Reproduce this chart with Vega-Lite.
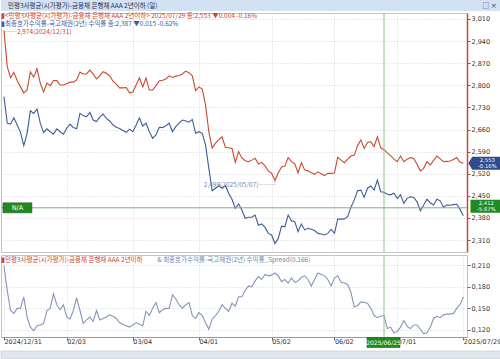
{
"$schema": "https://vega.github.io/schema/vega-lite/v6.json",
"padding": 0,
"background": "white",
"spacing": 1,
"config": {
  "font": "Noto Sans CJK KR",
  "view": {"stroke": "#c4c4c4"},
  "axis": {"labelFont": "DejaVu Sans", "labelFontSize": 6.5, "labelColor": "#333333", "tickColor": "#666666", "domainColor": "#999999", "gridColor": "#d4d4d4", "gridDash": [1, 2], "title": null, "labelOverlap": false}
},
"datasets": {
  "d": [
{"d":"2024/12/31","a":2.974,"b":2.764,"s":0.209},
{"d":"2025/01/02","a":2.859,"b":2.680,"s":0.175},
{"d":"2025/01/03","a":2.824,"b":2.677,"s":0.147},
{"d":"2025/01/06","a":2.841,"b":2.697,"s":0.143},
{"d":"2025/01/07","a":2.815,"b":2.674,"s":0.150},
{"d":"2025/01/08","a":2.795,"b":2.651,"s":0.150},
{"d":"2025/01/09","a":2.776,"b":2.609,"s":0.166},
{"d":"2025/01/10","a":2.785,"b":2.648,"s":0.138},
{"d":"2025/01/13","a":2.842,"b":2.719,"s":0.124},
{"d":"2025/01/14","a":2.826,"b":2.711,"s":0.119},
{"d":"2025/01/15","a":2.852,"b":2.725,"s":0.126},
{"d":"2025/01/16","a":2.807,"b":2.680,"s":0.127},
{"d":"2025/01/17","a":2.779,"b":2.650,"s":0.129},
{"d":"2025/01/20","a":2.807,"b":2.662,"s":0.147},
{"d":"2025/01/21","a":2.799,"b":2.653,"s":0.150},
{"d":"2025/01/22","a":2.815,"b":2.645,"s":0.170},
{"d":"2025/01/23","a":2.815,"b":2.662,"s":0.155},
{"d":"2025/01/24","a":2.801,"b":2.653,"s":0.148},
{"d":"2025/01/31","a":2.801,"b":2.645,"s":0.155},
{"d":"2025/02/03","a":2.805,"b":2.664,"s":0.138},
{"d":"2025/02/04","a":2.810,"b":2.677,"s":0.135},
{"d":"2025/02/05","a":2.810,"b":2.666,"s":0.147},
{"d":"2025/02/06","a":2.817,"b":2.662,"s":0.165},
{"d":"2025/02/07","a":2.842,"b":2.711,"s":0.147},
{"d":"2025/02/10","a":2.836,"b":2.704,"s":0.129},
{"d":"2025/02/11","a":2.836,"b":2.700,"s":0.134},
{"d":"2025/02/12","a":2.848,"b":2.714,"s":0.138},
{"d":"2025/02/13","a":2.836,"b":2.690,"s":0.132},
{"d":"2025/02/14","a":2.820,"b":2.685,"s":0.147},
{"d":"2025/02/17","a":2.830,"b":2.699,"s":0.134},
{"d":"2025/02/18","a":2.843,"b":2.709,"s":0.136},
{"d":"2025/02/19","a":2.838,"b":2.695,"s":0.138},
{"d":"2025/02/20","a":2.830,"b":2.687,"s":0.141},
{"d":"2025/02/21","a":2.813,"b":2.674,"s":0.139},
{"d":"2025/02/24","a":2.804,"b":2.667,"s":0.136},
{"d":"2025/02/25","a":2.792,"b":2.663,"s":0.130},
{"d":"2025/02/26","a":2.792,"b":2.657,"s":0.128},
{"d":"2025/02/27","a":2.793,"b":2.651,"s":0.126},
{"d":"2025/02/28","a":2.776,"b":2.661,"s":0.124},
{"d":"2025/03/04","a":2.779,"b":2.653,"s":0.127},
{"d":"2025/03/05","a":2.801,"b":2.674,"s":0.130},
{"d":"2025/03/06","a":2.824,"b":2.697,"s":0.128},
{"d":"2025/03/07","a":2.795,"b":2.671,"s":0.126},
{"d":"2025/03/10","a":2.823,"b":2.680,"s":0.146},
{"d":"2025/03/11","a":2.785,"b":2.653,"s":0.140},
{"d":"2025/03/12","a":2.785,"b":2.632,"s":0.150},
{"d":"2025/03/13","a":2.799,"b":2.643,"s":0.158},
{"d":"2025/03/14","a":2.814,"b":2.667,"s":0.144},
{"d":"2025/03/17","a":2.816,"b":2.666,"s":0.148},
{"d":"2025/03/18","a":2.820,"b":2.672,"s":0.150},
{"d":"2025/03/19","a":2.830,"b":2.680,"s":0.150},
{"d":"2025/03/20","a":2.825,"b":2.653,"s":0.169},
{"d":"2025/03/21","a":2.829,"b":2.669,"s":0.163},
{"d":"2025/03/24","a":2.831,"b":2.680,"s":0.155},
{"d":"2025/03/25","a":2.836,"b":2.690,"s":0.150},
{"d":"2025/03/26","a":2.845,"b":2.687,"s":0.155},
{"d":"2025/03/27","a":2.840,"b":2.683,"s":0.158},
{"d":"2025/03/28","a":2.830,"b":2.692,"s":0.140},
{"d":"2025/03/31","a":2.783,"b":2.648,"s":0.136},
{"d":"2025/04/01","a":2.795,"b":2.653,"s":0.144},
{"d":"2025/04/02","a":2.788,"b":2.648,"s":0.140},
{"d":"2025/04/03","a":2.738,"b":2.611,"s":0.130},
{"d":"2025/04/04","a":2.653,"b":2.537,"s":0.121},
{"d":"2025/04/07","a":2.601,"b":2.466,"s":0.135},
{"d":"2025/04/08","a":2.617,"b":2.474,"s":0.140},
{"d":"2025/04/09","a":2.627,"b":2.482,"s":0.146},
{"d":"2025/04/10","a":2.637,"b":2.474,"s":0.155},
{"d":"2025/04/11","a":2.604,"b":2.482,"s":0.150},
{"d":"2025/04/14","a":2.602,"b":2.458,"s":0.146},
{"d":"2025/04/15","a":2.600,"b":2.439,"s":0.157},
{"d":"2025/04/16","a":2.556,"b":2.410,"s":0.153},
{"d":"2025/04/17","a":2.590,"b":2.424,"s":0.166},
{"d":"2025/04/18","a":2.570,"b":2.405,"s":0.166},
{"d":"2025/04/21","a":2.561,"b":2.379,"s":0.175},
{"d":"2025/04/22","a":2.558,"b":2.382,"s":0.181},
{"d":"2025/04/23","a":2.563,"b":2.382,"s":0.180},
{"d":"2025/04/24","a":2.569,"b":2.389,"s":0.188},
{"d":"2025/04/25","a":2.551,"b":2.357,"s":0.194},
{"d":"2025/04/28","a":2.556,"b":2.361,"s":0.190},
{"d":"2025/04/29","a":2.545,"b":2.350,"s":0.197},
{"d":"2025/04/30","a":2.529,"b":2.331,"s":0.195},
{"d":"2025/05/02","a":2.521,"b":2.326,"s":0.196},
{"d":"2025/05/07","a":2.499,"b":2.299,"s":0.199},
{"d":"2025/05/08","a":2.522,"b":2.315,"s":0.195},
{"d":"2025/05/09","a":2.541,"b":2.354,"s":0.187},
{"d":"2025/05/12","a":2.544,"b":2.352,"s":0.190},
{"d":"2025/05/13","a":2.571,"b":2.389,"s":0.185},
{"d":"2025/05/14","a":2.558,"b":2.371,"s":0.192},
{"d":"2025/05/15","a":2.551,"b":2.368,"s":0.186},
{"d":"2025/05/16","a":2.523,"b":2.336,"s":0.188},
{"d":"2025/05/19","a":2.555,"b":2.361,"s":0.193},
{"d":"2025/05/20","a":2.532,"b":2.342,"s":0.195},
{"d":"2025/05/21","a":2.529,"b":2.347,"s":0.190},
{"d":"2025/05/22","a":2.523,"b":2.344,"s":0.181},
{"d":"2025/05/23","a":2.518,"b":2.340,"s":0.190},
{"d":"2025/05/26","a":2.526,"b":2.331,"s":0.199},
{"d":"2025/05/27","a":2.520,"b":2.329,"s":0.197},
{"d":"2025/05/28","a":2.514,"b":2.326,"s":0.195},
{"d":"2025/05/29","a":2.521,"b":2.331,"s":0.190},
{"d":"2025/05/30","a":2.521,"b":2.344,"s":0.181},
{"d":"2025/06/02","a":2.522,"b":2.331,"s":0.192},
{"d":"2025/06/04","a":2.572,"b":2.376,"s":0.195},
{"d":"2025/06/05","a":2.563,"b":2.376,"s":0.186},
{"d":"2025/06/09","a":2.555,"b":2.377,"s":0.185},
{"d":"2025/06/10","a":2.566,"b":2.384,"s":0.183},
{"d":"2025/06/11","a":2.576,"b":2.414,"s":0.172},
{"d":"2025/06/12","a":2.579,"b":2.437,"s":0.152},
{"d":"2025/06/13","a":2.609,"b":2.466,"s":0.154},
{"d":"2025/06/16","a":2.627,"b":2.468,"s":0.159},
{"d":"2025/06/17","a":2.600,"b":2.445,"s":0.158},
{"d":"2025/06/18","a":2.619,"b":2.474,"s":0.157},
{"d":"2025/06/19","a":2.621,"b":2.481,"s":0.150},
{"d":"2025/06/20","a":2.606,"b":2.468,"s":0.140},
{"d":"2025/06/23","a":2.637,"b":2.500,"s":0.137},
{"d":"2025/06/24","a":2.602,"b":2.463,"s":0.139},
{"d":"2025/06/25","a":2.596,"b":2.461,"s":0.140},
{"d":"2025/06/26","a":2.586,"b":2.455,"s":0.122},
{"d":"2025/06/27","a":2.577,"b":2.453,"s":0.124},
{"d":"2025/06/30","a":2.566,"b":2.458,"s":0.116},
{"d":"2025/07/01","a":2.558,"b":2.442,"s":0.118},
{"d":"2025/07/02","a":2.576,"b":2.453,"s":0.124},
{"d":"2025/07/03","a":2.558,"b":2.426,"s":0.133},
{"d":"2025/07/04","a":2.566,"b":2.442,"s":0.125},
{"d":"2025/07/07","a":2.571,"b":2.447,"s":0.122},
{"d":"2025/07/08","a":2.568,"b":2.445,"s":0.127},
{"d":"2025/07/09","a":2.550,"b":2.431,"s":0.127},
{"d":"2025/07/10","a":2.529,"b":2.403,"s":0.121},
{"d":"2025/07/11","a":2.537,"b":2.421,"s":0.115},
{"d":"2025/07/14","a":2.558,"b":2.439,"s":0.116},
{"d":"2025/07/15","a":2.548,"b":2.428,"s":0.124},
{"d":"2025/07/16","a":2.562,"b":2.421,"s":0.136},
{"d":"2025/07/17","a":2.576,"b":2.439,"s":0.139},
{"d":"2025/07/18","a":2.567,"b":2.434,"s":0.137},
{"d":"2025/07/21","a":2.558,"b":2.414,"s":0.141},
{"d":"2025/07/22","a":2.559,"b":2.421,"s":0.142},
{"d":"2025/07/23","a":2.560,"b":2.420,"s":0.142},
{"d":"2025/07/24","a":2.565,"b":2.422,"s":0.143},
{"d":"2025/07/25","a":2.571,"b":2.424,"s":0.150},
{"d":"2025/07/28","a":2.556,"b":2.407,"s":0.155},
{"d":"2025/07/29","a":2.553,"b":2.387,"s":0.166}
  ]
},
"vconcat": [
  {
    "width": 500, "height": 11,
    "view": {"stroke": null},
    "layer": [
      {
        "data": {"values": [{"k": "a", "k2": "b"}]},
        "mark": {"type": "rect", "color": "#d3e2f2", "opacity": 1},
        "encoding": {
          "x": {"field": "k", "type": "nominal", "scale": {"type": "point", "padding": 0, "align": 0}, "axis": null},
          "x2": {"field": "k2"}
        }
      },
      {
        "data": {"values": [{"k": "a", "t": "민평3사평균(시가평가)-금융채 은행채 AAA 2년이하 (일)"}]},
        "mark": {"type": "text", "align": "left", "baseline": "middle", "fontSize": 6.5, "color": "#1c2b4a", "dx": 7},
        "encoding": {
          "x": {"field": "k", "type": "nominal"},
          "text": {"field": "t"}
        }
      },
      {
        "data": {"values": [{"k": "b", "t": "□ ×"}]},
        "mark": {"type": "text", "align": "right", "baseline": "middle", "fontSize": 6.5, "color": "#1c2b4a", "dx": -4},
        "encoding": {
          "x": {"field": "k", "type": "nominal"},
          "text": {"field": "t"}
        }
      }
    ]
  },
  {
    "width": 466, "height": 239,
    "data": {"name": "d"},
    "layer": [
      {
        "mark": {"type": "line", "color": "#c9482e", "strokeWidth": 1.1},
        "encoding": {
          "x": {"field": "d", "type": "ordinal", "scale": {"type": "point", "padding": 1.365, "align": 0.444},
                "axis": {"labels": false, "ticks": false, "domain": false, "grid": true, "minExtent": 0, "maxExtent": 0, "labelPadding": 0, "values": ["2025/02/03","2025/03/04","2025/04/01","2025/05/02","2025/06/02","2025/07/01"]}},
          "y": {"field": "a", "type": "quantitative", "scale": {"domain": [2.272, 3.029], "nice": false, "zero": false},
                "axis": {"orient": "right", "values": [2.31, 2.38, 2.45, 2.52, 2.59, 2.66, 2.73, 2.80, 2.87, 2.94, 3.01], "tickCount": 30, "labelExpr": "floor(datum.value) + ',' + substring(format(datum.value, '.3f'), 2)", "labelOverlap": false, "labelBound": false, "grid": true, "domainColor": "#c9482e", "domainWidth": 1.5, "tickSize": 3, "labelPadding": 1}}
        }
      },
      {
        "mark": {"type": "line", "color": "#3d5c97", "strokeWidth": 1.1},
        "encoding": {
          "x": {"field": "d", "type": "ordinal"},
          "y": {"field": "b", "type": "quantitative"}
        }
      },
      {
        "data": {"values": [{}]},
        "mark": {"type": "rule", "color": "#8fc08f", "strokeWidth": 1},
        "encoding": {"x": {"datum": "2025/06/25", "type": "ordinal"}}
      },
      {
        "data": {"values": [{}]},
        "mark": {"type": "rule", "color": "#7fae7f", "strokeWidth": 1},
        "encoding": {"y": {"datum": 2.412, "type": "quantitative"}}
      },
      {
        "data": {"values": [{}]},
        "mark": {"type": "text", "align": "left", "baseline": "middle", "fontSize": 6.5, "color": "#c9482e", "dx": -3},
        "encoding": {"x": {"datum": "2024/12/31", "type": "ordinal"}, "y": {"datum": 3.0195, "type": "quantitative"}, "text": {"value": "▮<민평3사평균(시가평가)-금융채 은행채 AAA 2년이하> 2025/07/29 종:2,553 ▼0.004 -0.16%"}}
      },
      {
        "data": {"values": [{}]},
        "mark": {"type": "text", "align": "left", "baseline": "middle", "fontSize": 6.5, "color": "#3d5c97", "dx": -3},
        "encoding": {"x": {"datum": "2024/12/31", "type": "ordinal"}, "y": {"datum": 2.9935, "type": "quantitative"}, "text": {"value": "▮최종호가수익률-국고채권(2년) 수익률 종:2,387 ▼0.015 -0.62%"}}
      },
      {
        "data": {"values": [{}]},
        "mark": {"type": "text", "align": "left", "baseline": "middle", "fontSize": 6.5, "color": "#c9482e", "dx": 0, "dy": 1.5},
        "encoding": {"x": {"datum": "2024/12/31", "type": "ordinal"}, "y": {"datum": 2.974, "type": "quantitative"}, "text": {"value": "──2,974(2024/12/31)"}}
      },
      {
        "data": {"values": [{}]},
        "mark": {"type": "text", "align": "right", "baseline": "middle", "fontSize": 6.5, "color": "#7486ad", "dx": 3, "dy": 5},
        "encoding": {"x": {"datum": "2025/05/07", "type": "ordinal"}, "y": {"datum": 2.499, "type": "quantitative"}, "text": {"value": "2,499(2025/05/07)──┘"}}
      },
      {
        "data": {"values": [{}]},
        "mark": {"type": "point", "shape": "M 0.77 0 L 1.38 -1 L 6 -1 L 6 1 L 1.38 1 Z", "size": 169, "filled": true, "fill": "#2f4b8c", "opacity": 1, "strokeWidth": 0},
        "encoding": {"x": {"datum": "2025/07/29", "type": "ordinal"}, "y": {"datum": 2.553, "type": "quantitative"}}
      },
      {
        "data": {"values": [{}]},
        "mark": {"type": "text", "align": "center", "baseline": "middle", "font": "DejaVu Sans", "fontSize": 5.3, "color": "white", "dx": 24, "dy": -2.8},
        "encoding": {"x": {"datum": "2025/07/29", "type": "ordinal"}, "y": {"datum": 2.553, "type": "quantitative"}, "text": {"value": "2,553"}}
      },
      {
        "data": {"values": [{}]},
        "mark": {"type": "text", "align": "center", "baseline": "middle", "font": "DejaVu Sans", "fontSize": 5.3, "color": "white", "dx": 24, "dy": 3},
        "encoding": {"x": {"datum": "2025/07/29", "type": "ordinal"}, "y": {"datum": 2.553, "type": "quantitative"}, "text": {"value": "-0.16%"}}
      },
      {
        "data": {"values": [{}]},
        "mark": {"type": "point", "shape": "M 1.1 -1 L 6 -1 L 6 1 L 1.1 1 Z", "size": 169, "filled": true, "fill": "#1f8a22", "opacity": 1, "strokeWidth": 0},
        "encoding": {"x": {"datum": "2025/07/29", "type": "ordinal"}, "y": {"datum": 2.417, "type": "quantitative"}}
      },
      {
        "data": {"values": [{}]},
        "mark": {"type": "text", "align": "center", "baseline": "middle", "font": "DejaVu Sans", "fontSize": 5.3, "color": "white", "dx": 23, "dy": -2.8},
        "encoding": {"x": {"datum": "2025/07/29", "type": "ordinal"}, "y": {"datum": 2.417, "type": "quantitative"}, "text": {"value": "2,412"}}
      },
      {
        "data": {"values": [{}]},
        "mark": {"type": "text", "align": "center", "baseline": "middle", "font": "DejaVu Sans", "fontSize": 5.3, "color": "white", "dx": 23, "dy": 3},
        "encoding": {"x": {"datum": "2025/07/29", "type": "ordinal"}, "y": {"datum": 2.417, "type": "quantitative"}, "text": {"value": "-5.67%"}}
      },
      {
        "data": {"values": [{}]},
        "mark": {"type": "point", "shape": "M -0.2 -1 L 5.6 -1 L 5.6 1 L -0.2 1 Z", "size": 100, "filled": true, "fill": "#1f8a22", "opacity": 1, "stroke": "#0d4d10", "strokeWidth": 0.5},
        "encoding": {"x": {"datum": "2024/12/31", "type": "ordinal"}, "y": {"datum": 2.412, "type": "quantitative"}}
      },
      {
        "data": {"values": [{}]},
        "mark": {"type": "text", "align": "center", "baseline": "middle", "font": "DejaVu Sans", "fontSize": 6.5, "color": "white", "dx": 13.5},
        "encoding": {"x": {"datum": "2024/12/31", "type": "ordinal"}, "y": {"datum": 2.412, "type": "quantitative"}, "text": {"value": "N/A"}}
      }
    ]
  },
  {
    "width": 466, "height": 82,
    "data": {"name": "d"},
    "layer": [
      {
        "mark": {"type": "line", "color": "#8595b8", "strokeWidth": 1.1},
        "encoding": {
          "x": {"field": "d", "type": "ordinal", "scale": {"type": "point", "padding": 1.365, "align": 0.444},
                "axis": {"orient": "bottom", "values": ["2024/12/31","2025/02/03","2025/03/04","2025/04/01","2025/05/02","2025/06/02","2025/07/01","2025/07/29"], "tickCount": 30, "labelExpr": "datum.value == '2024/12/31' || datum.value == '2025/07/29' ? datum.value : substring(datum.value, 5)", "labelAlign": "left", "labelAngle": 0, "labelPadding": -2, "tickSize": 3, "grid": true, "labelOverlap": false, "labelBound": false}},
          "y": {"field": "s", "type": "quantitative", "scale": {"domain": [0.1103, 0.2239], "nice": false, "zero": false},
                "axis": {"orient": "right", "values": [0.12, 0.15, 0.18, 0.21], "tickCount": 30, "labelExpr": "'0,' + substring(format(datum.value, '.3f'), 2)", "labelOverlap": false, "labelBound": false, "grid": true, "tickSize": 3, "labelPadding": 1, "domain": false}}
        }
      },
      {
        "data": {"values": [{}]},
        "mark": {"type": "rule", "color": "#8fc08f", "strokeWidth": 1},
        "encoding": {"x": {"datum": "2025/06/25", "type": "ordinal"}}
      },
      {
        "data": {"values": [{}]},
        "mark": {"type": "text", "align": "left", "baseline": "middle", "fontSize": 6.5, "color": "#c9482e", "dx": -3},
        "encoding": {"x": {"datum": "2024/12/31", "type": "ordinal"}, "y": {"datum": 0.2163, "type": "quantitative"}, "text": {"value": "▮민평3사평균(시가평가)-금융채 은행채 AAA 2년이하"}}
      },
      {
        "data": {"values": [{}]},
        "mark": {"type": "text", "align": "left", "baseline": "middle", "fontSize": 6.5, "color": "#7486ad", "dx": -2},
        "encoding": {"x": {"datum": "2025/03/14", "type": "ordinal"}, "y": {"datum": 0.2163, "type": "quantitative"}, "text": {"value": "& 최종호가수익률-국고채권(2년) 수익률_Spread(0.166)"}}
      },
      {
        "data": {"values": [{}]},
        "mark": {"type": "point", "shape": "M -3.4 0.1 L 3.2 0.1 L 3.2 2.1 L -3.4 2.1 Z", "size": 100, "filled": true, "fill": "#1f8a22", "opacity": 1, "stroke": "#0d4d10", "strokeWidth": 0.5},
        "encoding": {"x": {"datum": "2025/06/25", "type": "ordinal"}, "y": {"datum": 0.1103, "type": "quantitative"}}
      },
      {
        "data": {"values": [{}]},
        "mark": {"type": "text", "align": "center", "baseline": "middle", "font": "DejaVu Sans", "fontSize": 6, "color": "white", "dx": -0.5, "dy": 5.5},
        "encoding": {"x": {"datum": "2025/06/25", "type": "ordinal"}, "y": {"datum": 0.1103, "type": "quantitative"}, "text": {"value": "2025/06/25"}}
      }
    ]
  },
  {
    "width": 500, "height": 8,
    "view": {"stroke": null},
    "data": {"values": [{"k": "a", "k2": "b"}]},
    "mark": {"type": "rect", "color": "#e1e6ec", "opacity": 1, "stroke": "#b5bcc6", "strokeWidth": 0.5},
    "encoding": {
      "x": {"field": "k", "type": "nominal", "scale": {"type": "point", "padding": 0, "align": 0}, "axis": null},
      "x2": {"field": "k2"}
    }
  }
]
}
